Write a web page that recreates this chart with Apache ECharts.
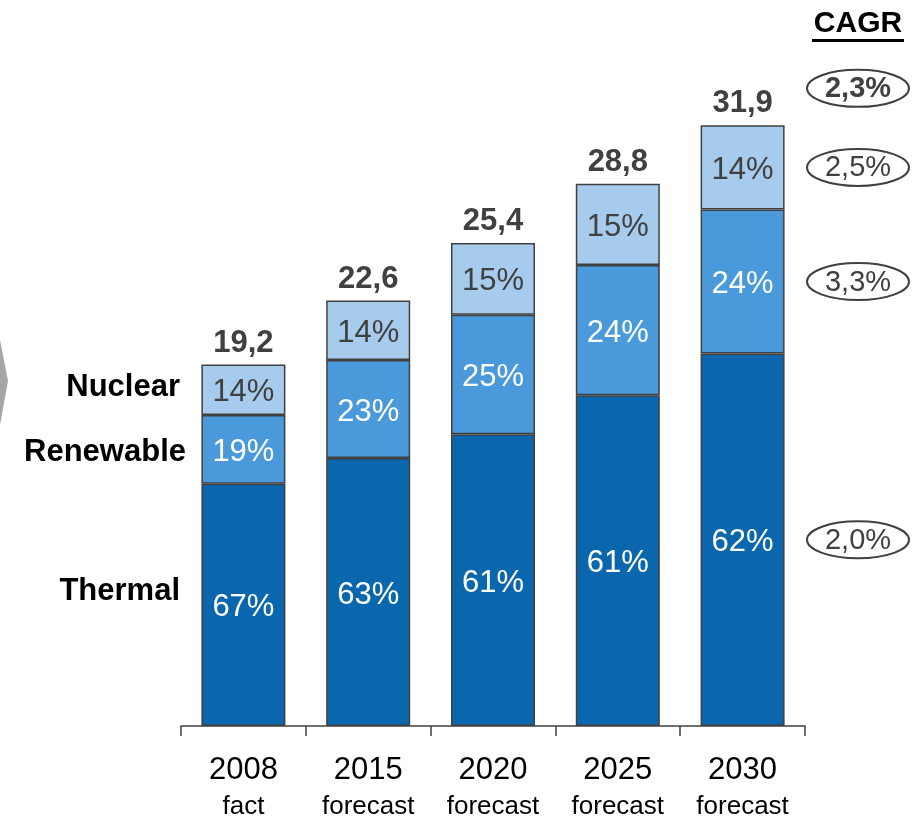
<!DOCTYPE html>
<html>
<head>
<meta charset="utf-8">
<script src="https://cdn.jsdelivr.net/npm/echarts@6/dist/echarts.min.js"></script>
<style>
	html, body { margin: 0; padding: 0; background: #fff; }
	#plot { width: 924px; height: 818px; }
</style>
</head>
<body>
<div id="plot"></div>
<script>
var years = ['2008', '2015', '2020', '2025', '2030'];
var kinds = ['fact', 'forecast', 'forecast', 'forecast', 'forecast'];
var totals = [19.2, 22.6, 25.4, 28.8, 31.9];
var thermalPct = [67, 63, 61, 61, 62];
var renewablePct = [19, 23, 25, 24, 24];
var nuclearPct = [14, 14, 15, 15, 14];
var cagrTotal = '2,3%';
var cagrNuclear = '2,5%';
var cagrRenewable = '3,3%';
var cagrThermal = '2,0%';

var font = 'Liberation Sans, Arial, sans-serif';
var dark = '#404040';

function share (pct) {
	var out = [];
	for (var i = 0; i < totals.length; i++)
		out.push(Math.round(totals[i] * pct[i] * 10) / 1000);
	return out;
}

function pctLabel (pct, color) {
	return {
		show: true,
		position: 'inside',
		offset: [0, 3],
		fontFamily: font,
		fontSize: 31,
		color: color,
		formatter: function (p) { return pct[p.dataIndex] + '%'; }
	};
}

function barSeries (name, pct, fill, labelColor) {
	return {
		name: name,
		type: 'bar',
		stack: 'mix',
		barWidth: 84,
		data: share(pct),
		itemStyle: { color: fill, borderColor: dark, borderWidth: 1.5 },
		label: pctLabel(pct, labelColor),
		emphasis: { disabled: true }
	};
}

var zeros = [];
for (var i = 0; i < totals.length; i++) zeros.push(0);

var option = {
	animation: false,
	grid: { left: 181, right: 119, top: 67, bottom: 92, containLabel: false, outerBoundsMode: 'none' },
	xAxis: {
		type: 'category',
		data: years,
		axisLine: { show: true, lineStyle: { color: dark, width: 1.5 } },
		axisTick: { show: true, inside: false, length: 10, alignWithLabel: false, lineStyle: { color: dark, width: 1.5 } },
		axisLabel: {
			margin: 25,
			formatter: function (v, idx) {
				return '{y|' + v + '}\n{k|' + kinds[idx] + '}';
			},
			rich: {
				y: { fontFamily: font, fontSize: 31, color: '#000', lineHeight: 38 },
				k: { fontFamily: font, fontSize: 26, color: '#000', lineHeight: 36 }
			}
		}
	},
	yAxis: {
		type: 'value',
		min: 0,
		max: 35,
		show: false,
		splitLine: { show: false }
	},
	series: [
		barSeries('Thermal', thermalPct, '#0A67AE', '#fff'),
		barSeries('Renewable', renewablePct, '#4A9ADB', '#fff'),
		barSeries('Nuclear', nuclearPct, '#A6CBEC', dark),
		{
			name: 'Total',
			type: 'bar',
			stack: 'mix',
			barWidth: 84,
			data: zeros,
			itemStyle: { color: 'transparent', borderWidth: 0 },
			label: {
				show: true,
				position: 'top',
				distance: 6,
				fontFamily: font,
				fontSize: 31,
				fontWeight: 'bold',
				color: dark,
				formatter: function (p) { return String(totals[p.dataIndex]).replace('.', ','); }
			},
			emphasis: { disabled: true }
		}
	]
};

var myChart = echarts.init(document.getElementById('plot'));
myChart.setOption(option);

function sideText (text, right, y) {
	return {
		type: 'text', x: right, y: y,
		style: { text: text, fontFamily: font, fontSize: 31, fontWeight: 'bold', fill: '#000', align: 'right', verticalAlign: 'middle' }
	};
}

function cagrBubble (text, y, bold) {
	return {
		type: 'group', x: 858, y: y,
		children: [
			{ type: 'ellipse', shape: { cx: 0, cy: 0, rx: 51, ry: 18.5 }, style: { fill: '#fff', stroke: dark, lineWidth: 2 } },
			{ type: 'text', x: 0, y: 1, style: { text: text, fontFamily: font, fontSize: 29, fontWeight: bold ? 'bold' : 'normal', fill: dark, align: 'center', verticalAlign: 'middle' } }
		]
	};
}

var last = totals.length - 1;
var th = share(thermalPct)[last], re = share(renewablePct)[last], nu = share(nuclearPct)[last];
function yOf (v) { return myChart.convertToPixel({ seriesIndex: 0 }, [last, v])[1]; }

myChart.setOption({
	graphic: [
		{ type: 'polygon', shape: { points: [[0, 340], [8, 381], [0, 425]] }, style: { fill: '#A6A6A6' } },
		sideText('Nuclear', 180, 387),
		sideText('Renewable', 186, 452),
		sideText('Thermal', 180, 591),
		{
			type: 'text', x: 858, y: 24,
			style: { text: 'CAGR', fontFamily: font, fontSize: 30, fontWeight: 'bold', fill: '#000', align: 'center', verticalAlign: 'middle' }
		},
		{ type: 'rect', shape: { x: 812, y: 39, width: 92, height: 3 }, style: { fill: '#000' } },
		cagrBubble(cagrTotal, yOf(th + re + nu) - 37, true),
		cagrBubble(cagrNuclear, yOf(th + re + nu / 2), false),
		cagrBubble(cagrRenewable, yOf(th + re / 2), false),
		cagrBubble(cagrThermal, yOf(th / 2), false)
	]
});
</script>
</body>
</html>
